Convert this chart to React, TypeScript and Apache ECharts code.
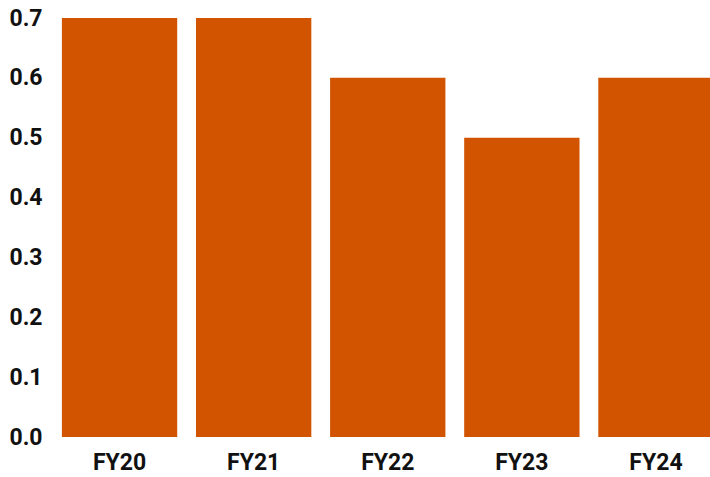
import React, { useEffect, useRef } from "react";
import * as echarts from "echarts";

const categories = ["FY20", "FY21", "FY22", "FY23", "FY24"];
const values = [0.7, 0.7, 0.6, 0.5, 0.6];
const yTicks = { min: 0, max: 0.7, interval: 0.1 };

export default function App() {
  const ref = useRef<HTMLDivElement>(null);
  useEffect(() => {
    const chart = echarts.init(ref.current!, null, { renderer: "svg" });
    const font = { fontFamily: "Roboto", fontWeight: "bold" as const, fontSize: 23, color: "#111" };
    chart.setOption({
      animation: false,
      backgroundColor: "#ffffff",
      grid: { left: 52.5, right: 0, top: 18, bottom: 40, containLabel: false },
      xAxis: {
        type: "category",
        data: categories,
        axisLine: { show: false },
        axisTick: { show: false },
        axisLabel: { ...font, margin: 14 },
      },
      yAxis: {
        type: "value",
        min: yTicks.min,
        max: yTicks.max,
        interval: yTicks.interval,
        splitLine: { show: false },
        axisLine: { show: false },
        axisTick: { show: false },
        axisLabel: { ...font, margin: 10, formatter: (v: number) => v.toFixed(1) },
      },
      series: [
        {
          type: "bar",
          data: values,
          barCategoryGap: "14%",
          itemStyle: { color: "#D35400" },
        },
      ],
    });
    return () => chart.dispose();
  }, []);
  return (
    <div style={{ position: "absolute", left: 0, top: 0, width: 710, height: 477, overflow: "hidden" }}>
      <div ref={ref} style={{ width: 722.5, height: 477 }} />
    </div>
  );
}
